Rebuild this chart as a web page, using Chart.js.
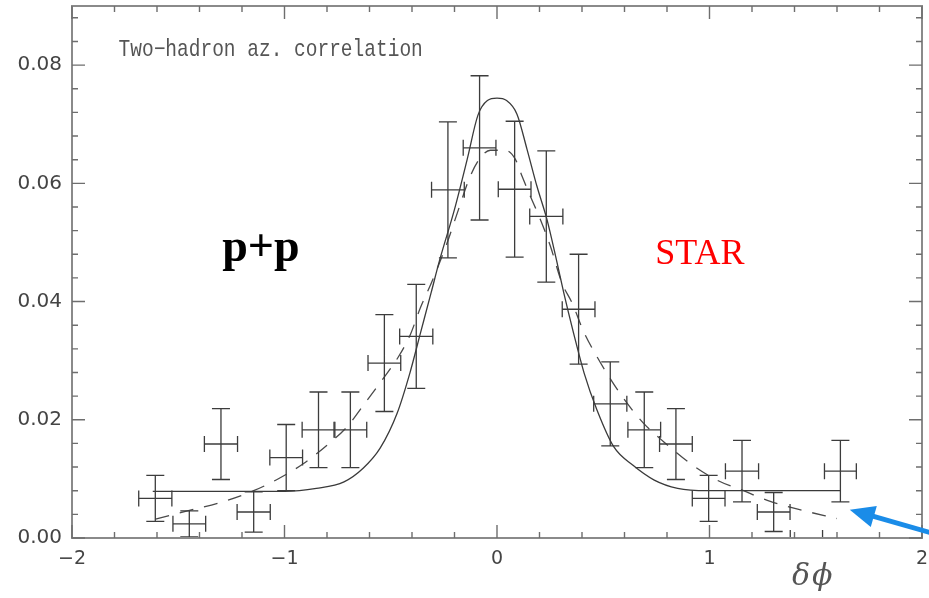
<!DOCTYPE html>
<html>
<head>
<meta charset="utf-8">
<script src="https://cdn.jsdelivr.net/npm/chart.js@4.4.0/dist/chart.umd.min.js"></script>
<style>
  html, body { margin: 0; padding: 0; background: #fff; }
  #wrap { position: relative; width: 929px; height: 598px; }
</style>
</head>
<body>
<div id="wrap"><canvas id="corr"></canvas></div>
<script>
// two-hadron azimuthal correlation, p+p
const dphi     = [-1.608, -1.448, -1.299, -1.145, -0.992, -0.840, -0.690, -0.530, -0.380, -0.231, -0.082,
                   0.083,  0.232,  0.384,  0.533,  0.693,  0.842,  0.996,  1.153,  1.302,  1.456,  1.616];
const corrVal  = [0.0067, 0.0024, 0.0159, 0.0044, 0.0136, 0.0183, 0.0183, 0.0296, 0.0341, 0.0589, 0.0660,
                  0.0590, 0.0544, 0.0387, 0.0227, 0.0183, 0.0159, 0.0067, 0.0113, 0.0044, 0.0000, 0.0113];
const corrErr  = [0.0039, 0.0022, 0.0060, 0.0034, 0.0056, 0.0064, 0.0064, 0.0082, 0.0088, 0.0115, 0.0122,
                  0.0115, 0.0111, 0.0093, 0.0071, 0.0064, 0.0060, 0.0039, 0.0052, 0.0033, 0.0000, 0.0052];
const binHalf  = [0.078, 0.077, 0.078, 0.078, 0.077, 0.077, 0.077, 0.077, 0.078, 0.077, 0.077,
                  0.077, 0.078, 0.077, 0.078, 0.077, 0.077, 0.077, 0.078, 0.077, 0.076, 0.075];

// solid curve
const fitX = [-1.62, -1.0, -0.85, -0.72, -0.63, -0.55, -0.47, -0.41, -0.36, -0.31, -0.27, -0.20, -0.14, -0.09, -0.045, 0,
               0.045, 0.094, 0.141, 0.188, 0.235, 0.28, 0.314, 0.36, 0.41, 0.47, 0.55, 0.64, 0.74, 0.85, 0.99, 1.616];
const fitY = [0.0079, 0.0079, 0.0084, 0.0095, 0.0118, 0.0152, 0.0211, 0.0279, 0.0347, 0.0415, 0.0470, 0.0556, 0.0641, 0.0715, 0.0740, 0.0744,
              0.0740, 0.0717, 0.0658, 0.0595, 0.0539, 0.0470, 0.0415, 0.0347, 0.0279, 0.0217, 0.0154, 0.0123, 0.0098, 0.0084, 0.0080, 0.0080];

// dashed curve
const dashX = [-1.607, -1.443, -1.294, -1.145, -1.035, -0.91, -0.80, -0.706, -0.628, -0.541, -0.463, -0.408, -0.361, -0.306,
               -0.235, -0.181, -0.126, -0.079, -0.031, 0.039, 0.086, 0.118, 0.157, 0.204, 0.251, 0.306, 0.353, 0.408,
                0.47, 0.541, 0.612, 0.69, 0.784, 0.91, 1.035, 1.16, 1.286, 1.435, 1.6];
const dashY = [0.0032, 0.0047, 0.0061, 0.0080, 0.0099, 0.0126, 0.0157, 0.0188, 0.0225, 0.0267, 0.0307, 0.0344, 0.0389, 0.0434,
               0.0499, 0.0556, 0.0612, 0.0643, 0.0656, 0.0656, 0.0641, 0.0612, 0.0578, 0.0539, 0.0494, 0.0431, 0.0398, 0.0349,
               0.0307, 0.0265, 0.0228, 0.0194, 0.0163, 0.0126, 0.0098, 0.0080, 0.0062, 0.0047, 0.0033];

const xTicks = [-2, -1, 0, 1, 2];
const yTicks = [0, 0.02, 0.04, 0.06, 0.08];

const pts = (xs, ys) => xs.map((x, i) => ({ x: x, y: ys[i] }));

// crosses: horizontal bin width and vertical error, both with caps
const errorBars = {
  id: 'errorBars',
  afterDatasetsDraw(chart) {
    const { ctx, chartArea: a, scales: { x, y } } = chart;
    ctx.save();
    ctx.beginPath();
    ctx.rect(a.left, a.top, a.right - a.left, a.bottom - a.top);
    ctx.clip();
    ctx.strokeStyle = '#3c3c3c';
    ctx.lineWidth = 1.3;
    const cap = 8;
    dphi.forEach((d, i) => {
      const cx = x.getPixelForValue(d);
      const cy = y.getPixelForValue(corrVal[i]);
      const x0 = x.getPixelForValue(d - binHalf[i]);
      const x1 = x.getPixelForValue(d + binHalf[i]);
      const y0 = y.getPixelForValue(corrVal[i] + corrErr[i]);
      const y1 = y.getPixelForValue(corrVal[i] - corrErr[i]);
      ctx.beginPath();
      ctx.moveTo(x0, cy); ctx.lineTo(x1, cy);
      ctx.moveTo(x0, cy - cap); ctx.lineTo(x0, cy + cap);
      ctx.moveTo(x1, cy - cap); ctx.lineTo(x1, cy + cap);
      if (corrErr[i] > 0) {
        ctx.moveTo(cx, y0); ctx.lineTo(cx, y1);
        ctx.moveTo(cx - cap - 1, y0); ctx.lineTo(cx + cap + 1, y0);
        ctx.moveTo(cx - cap - 1, y1); ctx.lineTo(cx + cap + 1, y1);
      }
      ctx.stroke();
    });
    ctx.restore();
  }
};

// box frame with inward ticks on all four sides
const frame = {
  id: 'frame',
  afterDraw(chart) {
    const { ctx, chartArea: a, scales: { x, y } } = chart;
    ctx.save();
    ctx.strokeStyle = '#8a8a8a';
    ctx.lineWidth = 2;
    ctx.strokeRect(a.left, a.top, a.right - a.left, a.bottom - a.top);
    ctx.strokeStyle = '#6e6e6e';
    ctx.lineWidth = 1.4;
    ctx.beginPath();
    for (let k = 0; k <= 20; k++) {
      const v = -2 + k * 0.2;
      const len = (k % 5 === 0) ? 13 : 6;
      const px = x.getPixelForValue(v);
      ctx.moveTo(px, a.bottom); ctx.lineTo(px, a.bottom - len);
      ctx.moveTo(px, a.top); ctx.lineTo(px, a.top + len);
    }
    for (let k = 0; k <= 22; k++) {
      const v = k * 0.004;
      const len = (k % 5 === 0) ? 13 : 6;
      const py = y.getPixelForValue(v);
      ctx.moveTo(a.left, py); ctx.lineTo(a.left + len, py);
      ctx.moveTo(a.right, py); ctx.lineTo(a.right - len, py);
    }
    ctx.stroke();
    ctx.restore();
  }
};

// labels and the blue pointer
const notes = {
  id: 'notes',
  afterDraw(chart) {
    const { ctx, chartArea: a, scales: { x, y } } = chart;
    ctx.save();
    ctx.textBaseline = 'alphabetic';
    ctx.textAlign = 'left';

    ctx.save();
    ctx.translate(x.getPixelForValue(-1.781), y.getPixelForValue(0.0816));
    ctx.scale(1, 1.2);
    ctx.fillStyle = '#555';
    ctx.font = '19.5px "Liberation Mono"';
    ctx.fillText('Two\u2212hadron az. correlation', 0, 0);
    ctx.restore();

    ctx.fillStyle = '#000';
    ctx.font = 'bold 46px "Liberation Serif"';
    ctx.fillText('p+p', x.getPixelForValue(-1.293), y.getPixelForValue(0.0468));

    ctx.fillStyle = '#ff0000';
    ctx.font = '36px "Liberation Serif"';
    ctx.fillText('STAR', x.getPixelForValue(0.745), y.getPixelForValue(0.0464));

    ctx.fillStyle = '#555';
    ctx.font = 'italic 30px "DejaVu Serif"';
    ctx.letterSpacing = '2px';
    ctx.fillText('\u03b4\u03d5', x.getPixelForValue(1.388), a.bottom + 47);
    ctx.letterSpacing = '0px';

    // arrow
    const tx = x.getPixelForValue(1.66), ty = y.getPixelForValue(0.0048);
    const ex = x.getPixelForValue(2.04), ey = y.getPixelForValue(0.0009);
    const ang = Math.atan2(ey - ty, ex - tx);
    const head = 25, hw = 11;
    const bx = tx + Math.cos(ang) * head, by = ty + Math.sin(ang) * head;
    ctx.strokeStyle = '#1a8ce8';
    ctx.fillStyle = '#1a8ce8';
    ctx.lineWidth = 5;
    ctx.beginPath();
    ctx.moveTo(bx - Math.cos(ang) * 2, by - Math.sin(ang) * 2);
    ctx.lineTo(ex, ey);
    ctx.stroke();
    ctx.beginPath();
    ctx.moveTo(tx, ty);
    ctx.lineTo(bx - Math.sin(ang) * hw, by + Math.cos(ang) * hw);
    ctx.lineTo(bx + Math.sin(ang) * hw, by - Math.cos(ang) * hw);
    ctx.closePath();
    ctx.fill();
    ctx.restore();
  }
};

new Chart(document.getElementById('corr'), {
  type: 'scatter',
  data: {
    datasets: [
      {
        label: 'data',
        data: pts(dphi, corrVal),
        pointRadius: 0,
        showLine: false
      },
      {
        label: 'fit',
        data: pts(fitX, fitY),
        showLine: true,
        pointRadius: 0,
        borderColor: '#3a3a3a',
        borderWidth: 1.3,
        cubicInterpolationMode: 'monotone'
      },
      {
        label: 'model',
        data: pts(dashX, dashY),
        showLine: true,
        pointRadius: 0,
        borderColor: '#4a4a4a',
        borderWidth: 1.3,
        borderDash: [14, 11],
        cubicInterpolationMode: 'monotone'
      }
    ]
  },
  options: {
    responsive: true,
    maintainAspectRatio: false,
    animation: false,
    devicePixelRatio: 1,
    layout: { padding: { top: 6, right: 7, left: 0, bottom: 0 } },
    plugins: { legend: { display: false }, tooltip: { enabled: false } },
    scales: {
      x: {
        type: 'linear',
        min: -2,
        max: 2,
        afterBuildTicks: (s) => { s.ticks = xTicks.map(v => ({ value: v })); },
        afterFit: (s) => { s.height = 60; s.paddingLeft = 0; s.paddingRight = 0; },
        grid: { display: false, drawTicks: false },
        border: { display: false },
        ticks: {
          padding: 10,
          color: '#444',
          font: { family: 'DejaVu Sans', size: 19 },
          callback: (v) => (v < 0 ? '\u2212' + Math.abs(v) : String(v))
        }
      },
      y: {
        type: 'linear',
        min: 0,
        max: 0.09,
        afterBuildTicks: (s) => { s.ticks = yTicks.map(v => ({ value: v })); },
        afterFit: (s) => { s.width = 72; s.paddingTop = 0; s.paddingBottom = 0; },
        grid: { display: false, drawTicks: false },
        border: { display: false },
        ticks: {
          padding: 10,
          color: '#444',
          font: { family: 'DejaVu Sans', size: 20 },
          callback: (v) => v.toFixed(2)
        }
      }
    }
  },
  plugins: [errorBars, frame, notes]
});
</script>
</body>
</html>
